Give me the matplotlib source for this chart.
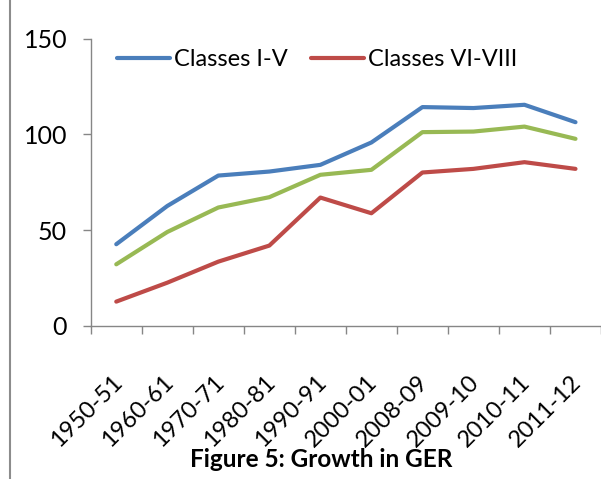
import matplotlib
matplotlib.use("Agg")
import matplotlib.pyplot as plt
import matplotlib.transforms as mtransforms
from matplotlib.lines import Line2D

years = ['1950-51', '1960-61', '1970-71', '1980-81', '1990-91',
         '2000-01', '2008-09', '2009-10', '2010-11', '2011-12']
classes_1_5 = [42.6, 62.6, 78.5, 80.6, 84.1, 95.8, 114.3, 113.8, 115.5, 106.4]
classes_6_8 = [12.6, 22.5, 33.5, 41.9, 67.0, 58.8, 80.1, 82.0, 85.5, 82.0]
classes_1_8 = [32.1, 49.0, 61.8, 67.2, 78.9, 81.5, 101.2, 101.5, 104.1, 97.7]

plt.rcParams['font.family'] = ['Lato', 'DejaVu Sans']

fig = plt.figure(figsize=(6.01, 4.79), dpi=100)
ax = fig.add_axes([0.151, 0.32, 0.849, 0.599])

x = list(range(len(years)))
l1, = ax.plot(x, classes_1_5, color='#4A7EBB', lw=3, solid_capstyle='round', label='Classes I-V')
l2, = ax.plot(x, classes_6_8, color='#BE4B48', lw=3, solid_capstyle='round', label='Classes VI-VIII')
ax.plot(x, classes_1_8, color='#98B954', lw=3, solid_capstyle='round')

ax.set_xlim(-0.5, 9.5)
ax.set_ylim(0, 150)
ax.set_yticks([0, 50, 100, 150])
ax.tick_params(axis='y', labelsize=18, length=6, width=1, color='#868686', pad=11)

# labels sit at category centres, tick marks between categories
ax.set_xticks(x)
ax.set_xticklabels(years, rotation=45, ha='right', va='top', fontsize=17)
ax.set_xticks([i - 0.5 for i in range(len(years) + 1)], minor=True)
ax.tick_params(axis='x', which='major', length=0, pad=33)
ax.tick_params(axis='x', which='minor', length=6, width=1, color='#868686')
shift = mtransforms.ScaledTranslation(7 / 72, 0, fig.dpi_scale_trans)
for lab in ax.get_xticklabels():
    lab.set_transform(lab.get_transform() + shift)

for s in ['top', 'right']:
    ax.spines[s].set_visible(False)
for s in ['left', 'bottom']:
    ax.spines[s].set_color('#868686')
    ax.spines[s].set_linewidth(1)

ax.legend(handles=[l1, l2], loc='upper left', bbox_to_anchor=(0.009, 1.038), ncol=2,
          frameon=False, fontsize=17, handlelength=2.25, handletextpad=0.2,
          columnspacing=0.95)

fig.text(0.534, 0.04, 'Figure 5: Growth in GER', ha='center', va='center',
         fontsize=17.5, fontweight='bold')

fig.add_artist(Line2D([10 / 601, 10 / 601], [0, 1], color='#8C8C8C', lw=1.5))

fig.savefig('out.png', dpi=100)
